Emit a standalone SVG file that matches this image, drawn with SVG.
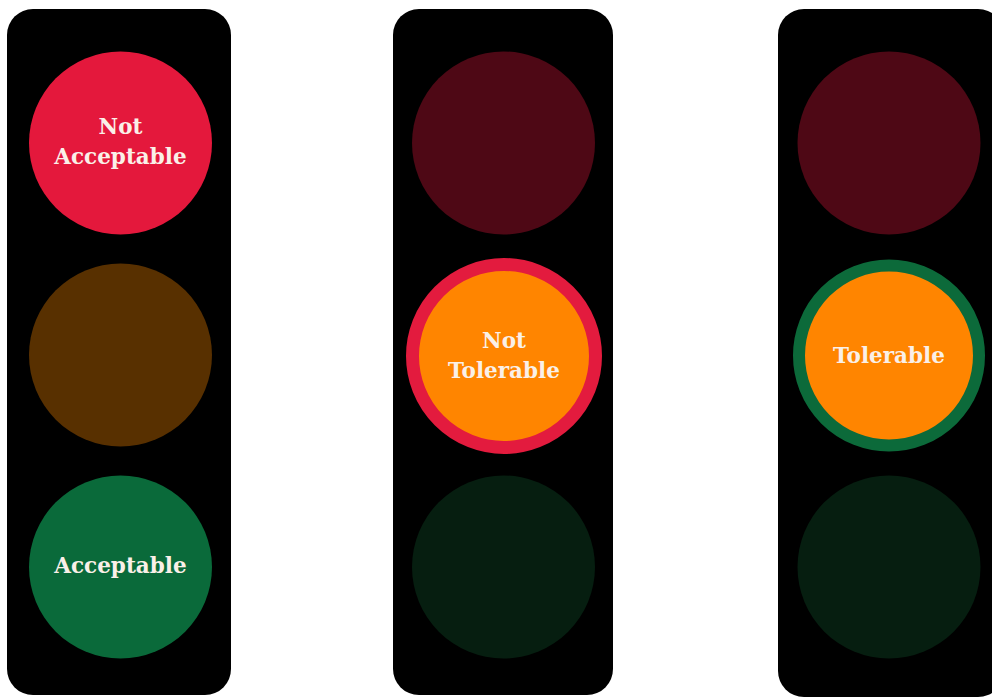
<svg xmlns="http://www.w3.org/2000/svg" width="992" height="697" viewBox="0 0 992 697">
<style>
.box{fill:#000}
.lbl{font-family:"DejaVu Serif","Liberation Serif",serif;font-weight:bold;font-size:21.5px;fill:#FAF0E8;text-anchor:middle}
</style>
<rect width="992" height="697" fill="#fff"/>
<g id="light1">
<rect class="box" x="7" y="9" width="224" height="686" rx="26"/>
<circle cx="120.5" cy="143" r="91.5" fill="#E4183C"/>
<circle cx="120.5" cy="355" r="91.5" fill="#583000"/>
<circle cx="120.5" cy="567" r="91.5" fill="#0A6A3A"/>
<text class="lbl" x="120.5" y="134">Not</text>
<text class="lbl" x="120.5" y="164">Acceptable</text>
<text class="lbl" x="120.5" y="573">Acceptable</text>
</g>
<g id="light2">
<rect class="box" x="393" y="9" width="220" height="686" rx="26"/>
<circle cx="503.5" cy="143" r="91.5" fill="#4E0815"/>
<circle cx="504" cy="356" r="91.5" fill="#FF8500" stroke="#E31B3E" stroke-width="13"/>
<circle cx="503.5" cy="567" r="91.5" fill="#061E10"/>
<text class="lbl" x="504" y="348">Not</text>
<text class="lbl" x="504" y="378">Tolerable</text>
</g>
<g id="light3">
<rect class="box" x="778" y="9" width="226" height="688" rx="26"/>
<circle cx="889" cy="143" r="91.5" fill="#4E0815"/>
<circle cx="889" cy="355.5" r="90" fill="#FF8500" stroke="#0C6A3A" stroke-width="12"/>
<circle cx="889" cy="567" r="91.5" fill="#061E10"/>
<text class="lbl" x="889" y="363">Tolerable</text>
</g>
</svg>
